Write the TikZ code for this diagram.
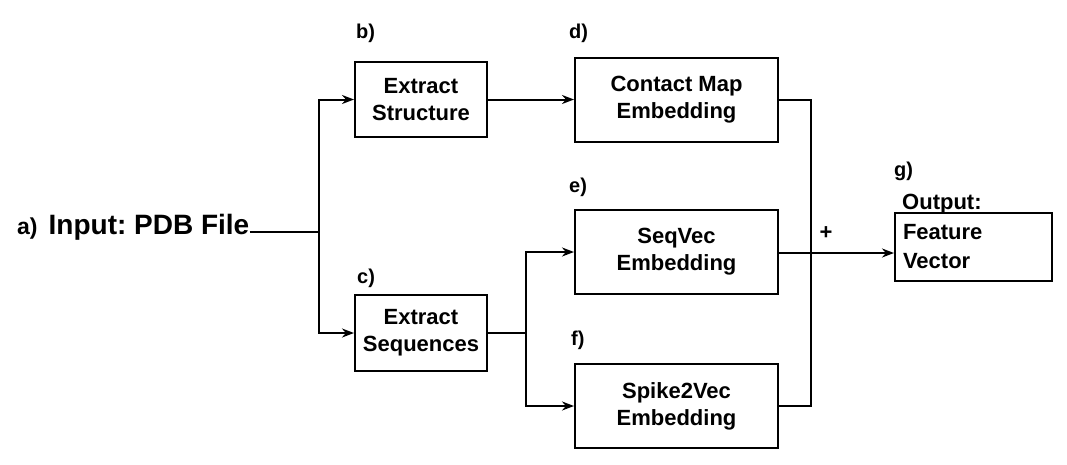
\documentclass[tikz,border=0pt]{standalone}
\usepackage{fontspec}
\setmainfont{Liberation Sans}
\frenchspacing
\usepackage{tikz}
\usetikzlibrary{positioning}
\usetikzlibrary{arrows.meta}
\tikzset{stagebox/.style={draw, line width=2pt, align=center,
font=\fontsize{22}{27}\selectfont\bfseries, inner sep=0pt},
steplbl/.style={anchor=base west, inner sep=0pt, font=\fontsize{20}{24}\selectfont\bfseries},
link/.style={line width=2pt},
linkarr/.style={line width=2pt, -{Stealth[length=12pt,width=9pt]}}}

\begin{document}
\begin{tikzpicture}[x=1pt, y=-1pt]
	\useasboundingbox (0,0) rectangle (1067,464);
	\node[anchor=base west, inner sep=0pt] (inp) at (17,234)
		{\fontsize{23}{26}\selectfont\bfseries a)\hspace{11pt}\fontsize{28}{32}\selectfont Input: PDB File};
	\node[stagebox, minimum width=132pt, minimum height=75pt] (struct) at (421,99.5) {Extract\\Structure};
	\node[stagebox, minimum width=132pt, minimum height=76pt] (seqs) at (421,333) {Extract\\Sequences};
	\node[stagebox, minimum width=203pt, minimum height=84pt] (cmap) at (676.5,99.5) {Contact Map\\Embedding};
	\node[stagebox, minimum width=203pt, minimum height=84pt] (seqvec) at (676.5,252) {SeqVec\\Embedding};
	\node[stagebox, minimum width=203pt, minimum height=84pt] (spike) at (676.5,406) {Spike2Vec\\Embedding};
	\node[stagebox, minimum width=157pt, minimum height=68pt, text width=141pt, align=left,
		font=\fontsize{22}{29}\selectfont\bfseries] (out) at (973.5,247) {Feature\\Vector};
	% step labels
	\node[steplbl] (lb) at ([xshift=2pt,yshift=23pt]struct.north west) {b)};
	\node[steplbl] (lc) at ([xshift=3pt,yshift=11pt]seqs.north west) {c)};
	\node[steplbl] (ld) at ([xshift=-5pt,yshift=18pt]cmap.north west) {d)};
	\node[steplbl] (le) at ([xshift=-5pt,yshift=17pt]seqvec.north west) {e)};
	\node[steplbl] (lf) at ([xshift=-3pt,yshift=18pt]spike.north west) {f)};
	\node[steplbl] (lg) at ([xshift=0pt,yshift=36pt]out.north west) {g)};
	\node[anchor=base west, inner sep=0pt, font=\fontsize{22}{26}\selectfont\bfseries] (outlbl)
		at ([xshift=8pt,yshift=3pt]out.north west) {Output:};
	\node[inner sep=0pt, font=\fontsize{22}{26}\selectfont\bfseries] (plus) at (826,233) {+};
	% connectors
	\coordinate (ja) at (319,232);
	\coordinate (jb) at (526,333);
	\coordinate (jc) at (811,253);
	\draw[link] (inp.east |- ja) -- (ja);
	\draw[linkarr] (ja) |- (struct.west);
	\draw[linkarr] (ja) |- (seqs.west);
	\draw[linkarr] (struct.east) -- (cmap.west);
	\draw[link] (seqs.east) -- (jb);
	\draw[linkarr] (jb) |- (seqvec.west);
	\draw[linkarr] (jb) |- (spike.west);
	\draw[link] (cmap.east) -| (jc);
	\draw[link] (spike.east) -| (jc);
	\draw[link] (seqvec.east |- jc) -- (jc);
	\draw[linkarr, line width=2.5pt] (jc) -- (jc -| out.west);
\end{tikzpicture}
\end{document}
